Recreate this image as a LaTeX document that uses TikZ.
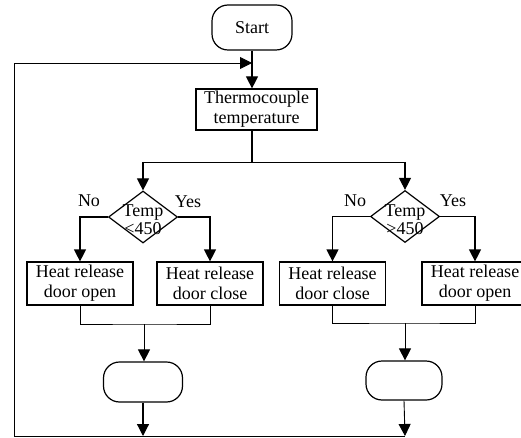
\documentclass[tikz,border=0pt]{standalone}
\usepackage{fontspec}
\setmainfont{Liberation Serif}
\usetikzlibrary{arrows.meta,shapes.geometric}
\begin{document}
\begin{tikzpicture}[x=1pt,y=-1pt,
  every node/.style={font=\fontsize{18}{20}\selectfont},
  box/.style={draw,line width=1.2pt,minimum width=106pt,minimum height=43pt,inner sep=0pt,align=center},
  term/.style={draw,line width=1.2pt,rounded corners=16pt,inner sep=0pt},
  dec/.style={draw,diamond,line width=1.2pt,inner sep=0pt,minimum width=69pt,minimum height=52pt},
  dtext/.style={inner sep=0pt,align=center,font=\fontsize{18}{18}\selectfont},
  lbl/.style={inner sep=0pt},
  conn/.style={line width=1.2pt},
  thinline/.style={line width=0.9pt},
  arr/.style={-{Triangle[length=12pt,width=12pt]}},
]
\useasboundingbox (0,0) rectangle (521,438);

% nodes
\node[term,minimum width=80pt,minimum height=45pt] (start) at (252,27.5) {Start};
\node[box,minimum width=121pt,minimum height=41pt] (thermo) at (256.5,109.5) {Thermocouple\\temperature};

\node[dec] (d1) at (143,217) {};
\node[dtext] (t1) at (143,220) {Temp\\<450};
\node[dec] (d2) at (405,216.5) {};
\node[dtext] (t2) at (405,219.5) {Temp\\>450};

\node[lbl] (no1) at (89,201) {No};
\node[lbl] (yes1) at (188,202) {Yes};
\node[lbl] (no2) at (355,201) {No};
\node[lbl] (yes2) at (453,201) {Yes};

\node[box] (b1) at (80,283.5) {Heat release\\door open};
\node[box] (b2) at (210,283.5) {Heat release\\door close};
\node[box] (b3) at (332.5,283.5) {Heat release\\door close};
\node[box] (b4) at (475,283.5) {Heat release\\door open};

\node[term,minimum width=79pt,minimum height=40pt] (e1) at (143,382) {};
\node[term,minimum width=76pt,minimum height=39pt] (e2) at (404,380.5) {};

% coordinates
\coordinate (split) at (252,162);
\coordinate (m1) at (144,324);
\coordinate (m2) at (405,323);
\coordinate (c1) at (143,436);
\coordinate (c2) at (405,436);
\coordinate (cbl) at (14,436);
\coordinate (ctl) at (14,63);
\coordinate (ctop) at (252,63);

% connectors
\draw[conn,arr] (start.south) -- (start.south |- thermo.north);
\draw[conn] (start.south |- thermo.south) -- (split);
\draw[thinline] (split) -- (split -| d1.north);
\draw[thinline] (split) -- (split -| d2.north);
\draw[conn,arr] (split -| d1.north) -- (d1.north);
\draw[conn,arr] (split -| d2.north) -- (d2.north);

\draw[conn,arr] (d1.west) -| (b1.north);
\draw[conn,arr] (d1.east) -| (b2.north);
\draw[conn,arr] (d2.west) -| (b3.north);
\draw[conn,arr] (d2.east) -| (b4.north);

\draw[thinline] (b1.south) |- (m1) -| (b2.south);
\draw[thinline] (b3.south) |- (m2) -| (b4.south);
\draw[thinline,arr] (m1) -- (m1 |- e1.north);
\draw[thinline,arr] (m2) -- (m2 |- e2.north);

\draw[conn,arr] (e1.south) -- (c1);
\draw[thinline,arr] (e2.south) -- (c2);
\draw[thinline,arr] (c2) -- (cbl) -- (ctl) -- (ctop);
\end{tikzpicture}
\end{document}
